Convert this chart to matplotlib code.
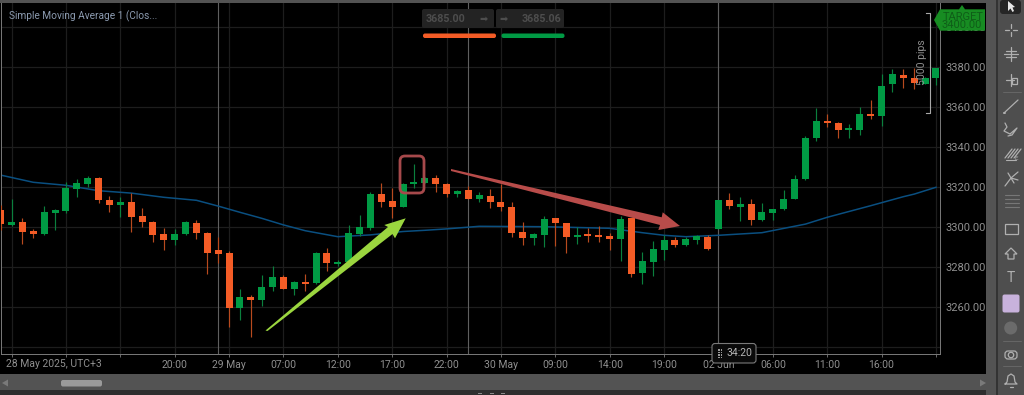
import matplotlib
matplotlib.use("Agg")
import matplotlib.pyplot as plt
from matplotlib.patches import Rectangle, Polygon, FancyBboxPatch, Circle

plt.rcParams['font.family'] = ['Roboto', 'DejaVu Sans']

# each candle: direction, body top, body bottom, high, low
candles = [
 ('r',3308.3,3301.3,3310.8,3298.3),('g',3302.5,3300.8,3313.7,3300.3),('r',3302.5,3297.5,3304.2,3291.3),
 ('r',3297.8,3296.2,3299.0,3294.2),('g',3307.2,3296.2,3310.5,3295.7),('g',3308.5,3307.0,3308.8,3298.3),
 ('g',3319.2,3308.0,3322.2,3307.0),('g',3321.8,3318.8,3323.8,3315.0),('g',3324.3,3321.3,3325.3,3320.0),
 ('r',3324.2,3313.3,3324.7,3311.7),('r',3313.5,3311.0,3315.3,3307.3),('g',3312.3,3311.0,3314.7,3304.8),
 ('r',3312.3,3305.0,3316.7,3297.5),('r',3305.2,3302.2,3309.2,3300.0),('r',3302.5,3295.8,3302.8,3292.3),
 ('r',3296.2,3293.2,3299.2,3288.3),('g',3296.5,3293.2,3298.8,3290.8),('g',3302.5,3296.2,3302.8,3295.8),
 ('r',3302.0,3296.7,3303.3,3293.8),('r',3297.0,3286.8,3297.3,3276.3),('r',3288.2,3286.3,3295.0,3281.7),
 ('r',3286.7,3259.5,3287.7,3250.0),('g',3264.7,3259.5,3268.7,3253.3),('r',3264.7,3263.5,3265.7,3245.0),
 ('g',3270.0,3263.3,3275.7,3260.5),('g',3274.7,3269.8,3280.3,3267.7),('r',3274.7,3269.0,3275.7,3268.8),
 ('g',3272.3,3269.0,3272.7,3265.8),('r',3272.3,3271.5,3276.3,3267.7),('g',3286.7,3271.7,3287.3,3271.5),
 ('r',3286.7,3281.7,3289.5,3278.0),('g',3282.3,3281.3,3283.3,3280.3),('g',3296.8,3282.5,3300.8,3281.7),
 ('g',3299.7,3296.3,3305.8,3295.3),('g',3316.3,3299.3,3317.5,3298.3),('r',3316.3,3312.5,3321.8,3310.0),
 ('r',3312.8,3310.0,3319.5,3304.3),('g',3321.3,3310.0,3321.7,3310.0),('g',3322.3,3321.2,3331.2,3319.5),
 ('g',3324.3,3321.8,3324.7,3321.7),('r',3324.3,3321.2,3325.8,3317.2),('r',3321.5,3316.3,3321.8,3315.0),
 ('g',3317.7,3316.3,3318.3,3314.7),('r',3318.2,3314.0,3320.3,3313.7),('g',3315.7,3314.0,3317.2,3312.5),
 ('r',3315.5,3312.5,3318.7,3309.3),('r',3312.3,3309.7,3321.2,3307.7),('r',3310.0,3297.0,3312.3,3294.7),
 ('r',3297.3,3294.3,3302.3,3291.0),('g',3296.2,3294.3,3296.7,3291.0),('g',3304.0,3295.8,3305.3,3289.8),
 ('r',3304.2,3301.8,3304.2,3290.3),('r',3301.7,3294.7,3301.7,3287.0),('g',3295.7,3294.7,3299.7,3291.3),
 ('r',3295.8,3295.3,3299.5,3292.3),('r',3295.8,3295.0,3300.5,3292.3),('r',3295.2,3293.8,3297.0,3288.3),
 ('g',3304.0,3293.8,3305.3,3282.8),('r',3304.2,3276.3,3304.5,3274.8),('g',3282.7,3276.8,3287.5,3271.3),
 ('g',3288.7,3282.5,3293.0,3275.5),('g',3293.2,3288.5,3295.7,3283.3),('r',3293.3,3290.7,3294.7,3289.7),
 ('g',3293.8,3290.7,3294.7,3290.5),('g',3295.2,3293.5,3295.7,3291.5),('r',3294.8,3288.7,3295.7,3288.3),
 ('g',3313.2,3299.0,3313.3,3299.0),('r',3313.2,3310.2,3316.8,3309.0),('g',3311.2,3310.0,3314.8,3303.0),
 ('r',3311.2,3303.3,3313.7,3301.0),('g',3307.2,3303.3,3311.7,3303.0),('g',3308.7,3307.0,3308.7,3303.3),
 ('g',3313.8,3308.7,3318.3,3308.3),('g',3323.7,3313.7,3325.8,3313.7),('g',3344.3,3323.7,3345.3,3323.3),
 ('g',3352.7,3344.2,3359.2,3343.0),('r',3352.7,3351.7,3356.3,3349.7),('r',3352.0,3348.2,3352.3,3344.2),
 ('g',3348.7,3348.2,3351.2,3344.5),('g',3356.2,3348.5,3359.8,3345.8),('r',3356.2,3355.3,3363.5,3353.7),
 ('g',3370.5,3355.3,3376.2,3350.5),('g',3376.2,3371.5,3378.8,3367.5),('r',3376.0,3374.3,3378.8,3369.5),
 ('r',3374.3,3371.7,3379.3,3368.8),('g',3374.3,3371.5,3374.7,3371.2),('g',3379.3,3374.3,3379.3,3370.7),
]
sma_bars = [0,3,6,9,12,15,18,20,22,24,26,28,31,34,37,39,41,44,50,56,59,61,63,66,70,74,76,80,83,84,86]
sma_vals = [3325.8,3322.2,3320.7,3318.0,3316.8,3314.7,3313.2,3310.3,3307.2,3304.2,3300.9,3298.0,3295.0,
            3295.9,3297.6,3298.2,3298.9,3300.2,3300.0,3299.2,3297.0,3295.7,3295.0,3295.7,3297.0,3301.3,
            3304.7,3310.5,3315.0,3316.3,3319.7]
x_tick_bars = [1,6,11,16,21,26,31,36,41,46,51,56,61,66,71,76,81,86]
x_tick_labels = ['','','','20:00','29 May','07:00','12:00','17:00','22:00','30 May','09:00','14:00',
                 '19:00','02 Jun','06:00','11:00','16:00','']
y_ticks = [3240,3260,3280,3300,3320,3340,3360,3380,3400]
y_labels = ['','3260.00','3280.00','3300.00','3320.00','3340.00','3360.00','3380.00','3400.00']
session_bars = [20,43,66]

W, H = 1024, 395
GREEN, RED = '#009a44', '#f45c26'
LABEL = '#8f8f8f'
fig = plt.figure(figsize=(W/100, H/100), dpi=100, facecolor='#000000')

# main price chart: pixel frame x 1..939.5, y 3..354
L, R, T, B = 1.0, 939.5, 3.0, 354.0
ax = fig.add_axes([L/W, 1-B/H, (R-L)/W, (B-T)/H], facecolor='black')
ax.set_xlim((L-0.7)/10.875, (R-0.7)/10.875)
ax.set_ylim(3300+(226.7-B)/2, 3300+(226.7-T)/2)
ax.spines['top'].set_visible(False)
for s in ('left','right','bottom'):
    ax.spines[s].set_color('#7a7a7a'); ax.spines[s].set_linewidth(0.7)
ax.yaxis.tick_right()
ax.set_xticks(x_tick_bars, x_tick_labels)
ax.set_yticks(y_ticks, y_labels)
ax.tick_params(axis='x', length=2, width=0.6, color='#7a7a7a', labelcolor=LABEL, labelsize=7.5, pad=2.5)
ax.tick_params(axis='y', length=0, labelcolor=LABEL, labelsize=8, pad=4)
for lab in ax.get_yticklabels():
    lab.set_y(lab.get_position()[1])
ax.grid(True, color='#1d1d1d', lw=0.9)
ax.set_axisbelow(True)
for b in session_bars:
    ax.axvline(b, color='#5f5f5f', lw=0.8, zorder=1.5)
ax.text(6/W, 1-364/H, '28 May 2025, UTC+3', transform=fig.transFigure, color=LABEL, fontsize=7.5, va='center', ha='left')

ax.plot(sma_bars, sma_vals, color='#0a4f80', lw=1.1, zorder=2)
for i, (d, top, bot, hi, lo) in enumerate(candles):
    c = GREEN if d == 'g' else RED
    wick = '#0b7f3d' if d == 'g' else '#b84a1e'
    ax.plot([i, i], [lo, hi], color=wick, lw=0.85, zorder=3, solid_capstyle='butt')
    ax.add_patch(Rectangle((i-0.32, bot), 0.64, max(top-bot, 1.0), facecolor=c, edgecolor='none', zorder=4))

# overlay in pixel coordinates for drawings and platform furniture
ov = fig.add_axes([0, 0, 1, 1], facecolor='none')
ov.set_xlim(0, W); ov.set_ylim(H, 0); ov.axis('off')

# hand drawn annotations
ov.add_patch(Polygon([(265.5,330.5),(388,227),(384.3,225),(405.7,218.3),(395,238.3),(392.5,234),(267.5,331)],
                     closed=True, facecolor='#9bd63f', edgecolor='none'))
ov.add_patch(Polygon([(451,169),(661.7,217.3),(662.7,212.3),(680,226),(658.3,230),(660,225),(451,171)],
                     closed=True, facecolor='#b84c4a', edgecolor='none'))
ov.add_patch(FancyBboxPatch((400,156), 24, 37, boxstyle='round,pad=0,rounding_size=5', facecolor='none',
                            edgecolor='#a6494b', lw=2.0))

# order buttons
ov.add_patch(FancyBboxPatch((422,9), 72, 19, boxstyle='round,pad=0,rounding_size=2', facecolor='#232323', edgecolor='none'))
ov.add_patch(FancyBboxPatch((496,9), 68, 19, boxstyle='round,pad=0,rounding_size=2', facecolor='#232323', edgecolor='none'))
ov.text(445,18.5,'3685.00',color='#4d4d4d',fontsize=7.7,fontweight='bold',ha='center',va='center')
ov.text(541,18.5,'3685.06',color='#4d4d4d',fontsize=7.7,fontweight='bold',ha='center',va='center')
ov.text(484,18.5,'➡',color='#4d4d4d',fontsize=7,ha='center',va='center',family=['DejaVu Sans'])
ov.text(504,18.5,'➡',color='#4d4d4d',fontsize=7,ha='center',va='center',family=['DejaVu Sans'])
ov.add_patch(FancyBboxPatch((423,33.5), 73, 4.5, boxstyle='round,pad=0,rounding_size=2', facecolor=RED, edgecolor='none'))
ov.add_patch(FancyBboxPatch((501.5,33.5), 63, 4.5, boxstyle='round,pad=0,rounding_size=2', facecolor=GREEN, edgecolor='none'))

ov.text(9,16.5,'Simple Moving Average 1 (Clos...',color='#8c9bb0',fontsize=7.3,va='center',ha='left')

# target tag and measure bracket
ov.add_patch(Polygon([(934,20),(940,9.3),(959,9.3),(962,5),(965,9.3),(985,9.3),(985,30.7),(940,30.7)],
                     closed=True, facecolor='#178c22', edgecolor='none'))
ov.text(963,17.5,'TARGET',color='#0f5e18',fontsize=8,ha='center',va='center')
ov.text(962,25,'3400.00',color='#0f5e18',fontsize=8,ha='center',va='center')
ov.plot([925.5,929.5,929.5,925.5],[12.7,12.7,112.7,112.7],color='#a8a8a8',lw=0.8)
ov.text(922,62,'5000 pips',color='#8f8f8f',fontsize=7.5,rotation=90,ha='center',va='center')

# countdown pill
ov.add_patch(FancyBboxPatch((712,343.5), 44, 19.5, boxstyle='round,pad=0,rounding_size=3', facecolor='#0a0a0a',
                            edgecolor='#7a7a7a', lw=0.8, zorder=6))
ov.text(739,352.7,'34:20',color='#b5b5b5',fontsize=7.5,ha='center',va='center',zorder=7)
for dx in (718,720.5):
    for dy in (349,351.5,354,356.5):
        ov.add_patch(Rectangle((dx,dy),1.5,1.5,facecolor='#9a9a9a',edgecolor='none',zorder=7))

# window chrome
chrome = '#535353'
ov.add_patch(Rectangle((0,0),W,3,facecolor=chrome,edgecolor='none'))
ov.add_patch(Rectangle((0,374),986,16,facecolor=chrome,edgecolor='none'))
ov.add_patch(Rectangle((0,390),W,5,facecolor='#2e2e2e',edgecolor='none'))
ov.add_patch(Rectangle((986,0),10,H,facecolor=chrome,edgecolor='none'))
ov.add_patch(Rectangle((996,0),1.5,H,facecolor='#333333',edgecolor='none'))
ov.add_patch(Rectangle((997.5,0),W-997.5,H,facecolor='#4e4e4e',edgecolor='none'))
ov.add_patch(FancyBboxPatch((61,380), 41, 6.5, boxstyle='round,pad=0,rounding_size=2', facecolor='#9a9a9a', edgecolor='none'))
ov.add_patch(Polygon([(2,383),(8,379.5),(8,386.5)],facecolor='#7a7a7a',edgecolor='none'))
ov.add_patch(Polygon([(986,383),(980,379.5),(980,386.5)],facecolor='#7a7a7a',edgecolor='none'))
for gx in (478,490,501):
    ov.add_patch(Rectangle((gx,392.5),4,1.5,facecolor='#8a8a8a',edgecolor='none'))

# toolbar icons
ic = '#b0b0b0'
def ln(xs, ys, lw=0.9, c=ic):
    ov.plot(xs, ys, color=c, lw=lw, solid_capstyle='round')
ov.add_patch(FancyBboxPatch((1000,0), 21, 14, boxstyle='round,pad=0,rounding_size=3', facecolor='#262626', edgecolor='none'))
ov.add_patch(Polygon([(1008,1),(1008,11),(1010.5,8.5),(1012.5,12),(1014,11),(1012.5,7.5),(1015,7)],facecolor='#e8e8e8',edgecolor='none'))
ln([1011,1011],[24,28]); ln([1011,1011],[32,36]); ln([1005,1009],[30,30]); ln([1013,1017],[30,30])
ln([1011,1011],[47,61]); ln([1004,1018],[54,54]); ln([1006,1016],[51,51]); ln([1006,1016],[57,57])
ln([1006,1014],[80,80]); ln([1011,1011],[74,86]); ov.add_patch(Rectangle((1012,78),5,6,facecolor='none',edgecolor=ic,lw=0.9))
ln([1003,1021],[92,92],0.6,'#6a6a6a')
ln([1004,1018],[113,100]); ln([1004,1004.5],[113,113],1.4)
ln([1005,1007,1004,1010,1017,1012,1008],[123,127,131,134,128,135,136])
for dx in (0,3,6,9): ln([1005+dx,1012+dx],[158,149])
ln([1006,1016],[160,160],0.8); ov.text(1016,158,'E',color=ic,fontsize=4.5,ha='center',va='center')
ln([1005,1011],[186,178]); ln([1011,1018],[178,172]); ln([1011,1018],[178,180]); ln([1008,1014],[173,183])
for yy in (195,199,203,207):
    ln([1005,1019],[yy,yy],0.8,'#777777')
ov.add_patch(Rectangle((1005,224),13,10,facecolor='none',edgecolor=ic,lw=0.9))
ov.add_patch(Polygon([(1011,248),(1017,254),(1014,254),(1014,259),(1008,259),(1008,254),(1005,254)],facecolor='none',edgecolor=ic,lw=0.9))
ov.text(1011,278,'T',color=ic,fontsize=10,ha='center',va='center')
ov.add_patch(FancyBboxPatch((1002.5,294.5), 17, 18, boxstyle='round,pad=0,rounding_size=2', facecolor='#c8b2dc', edgecolor='none'))
ov.add_patch(Circle((1010.7,328),6.5,facecolor='#6b6b6b',edgecolor='none'))
ln([1003,1021],[341,341],0.6,'#6a6a6a')
ov.add_patch(FancyBboxPatch((1005,351), 12, 8, boxstyle='round,pad=0,rounding_size=3', facecolor='none', edgecolor=ic, lw=0.9))
ov.add_patch(Circle((1011,355),2.7,facecolor='none',edgecolor=ic,lw=0.9))
ln([1003,1021],[366,366],0.6,'#6a6a6a')
ln([1005,1007,1008,1011,1014,1015,1017,1005],[384,382,376,374,376,382,384,384])
ln([1009.5,1012.5],[386.5,386.5])

fig.savefig('out.png', dpi=100, facecolor=fig.get_facecolor())
